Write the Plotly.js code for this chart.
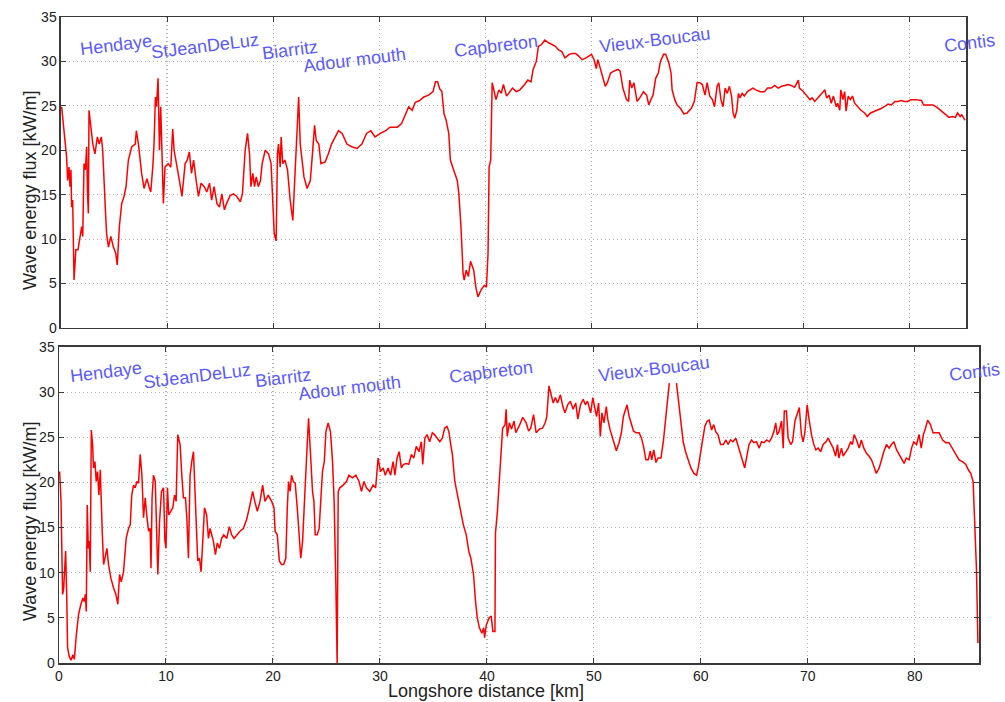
<!DOCTYPE html>
<html>
<head>
<meta charset="utf-8">
<script src="https://cdn.plot.ly/plotly-3.0.1.min.js"></script>
<style>html,body{margin:0;padding:0;background:#fff;}#chart{width:1005px;height:702px;}</style>
</head>
<body>
<div id="chart"></div>
<script>
// ---- Data: top panel (km, kW/m) ----
var topX = [0.06,0.2,0.4,0.53,0.63,0.75,0.85,0.94,1.0,1.1,1.23,1.4,1.6,1.8,1.95,2.05,2.17,2.3,2.42,2.5,2.58,2.64,2.8,3.0,3.2,3.43,3.6,3.8,3.93,4.06,4.2,4.3,4.47,4.7,4.94,5.16,5.3,5.5,5.72,5.94,6.13,6.35,6.67,7.0,7.1,7.3,7.6,7.83,8.1,8.3,8.46,8.65,8.77,8.9,9.0,9.15,9.28,9.4,9.53,9.65,9.8,10.1,10.35,10.53,10.66,10.9,11.16,11.4,11.7,11.9,12.1,12.3,12.5,12.74,12.96,13.2,13.5,13.74,14.0,14.2,14.43,14.7,14.94,15.16,15.4,15.6,15.94,16.26,16.57,16.9,17.1,17.36,17.58,17.77,17.9,18.08,18.24,18.4,18.6,18.8,18.96,19.25,19.56,19.8,19.97,20.1,20.28,20.4,20.5,20.66,20.75,20.9,21.1,21.35,21.6,21.85,22.0,22.2,22.4,22.55,22.7,22.9,23.2,23.5,23.7,23.9,24.06,24.3,24.5,24.9,25.2,25.5,25.85,26.16,26.5,26.95,27.4,27.9,28.36,28.8,29.2,29.6,30.1,30.6,31.0,31.7,32.1,32.45,32.77,33.1,33.4,33.8,34.2,34.65,35.06,35.3,35.5,35.7,35.9,36.1,36.3,36.55,36.7,37.0,37.35,37.5,37.7,37.9,38.0,38.2,38.4,38.6,38.9,39.1,39.3,39.6,39.9,40.1,40.25,40.35,40.5,40.64,40.86,41.0,41.27,41.5,41.7,42.0,42.2,42.55,42.9,43.25,43.7,44.0,44.3,44.5,44.8,45.0,45.3,45.6,45.96,46.3,46.6,46.9,47.2,47.5,47.9,48.2,48.5,48.8,49.1,49.5,49.8,50.0,50.25,50.45,50.6,50.8,51.05,51.3,51.5,51.8,52.1,52.5,52.7,52.96,53.3,53.5,53.6,53.8,54.0,54.3,54.55,54.9,55.2,55.4,55.6,55.8,56.05,56.3,56.5,56.8,57.0,57.3,57.5,57.6,57.85,58.07,58.4,58.7,59.0,59.4,59.7,59.95,60.2,60.45,60.7,60.9,61.15,61.4,61.6,61.84,62.0,62.2,62.4,62.6,62.8,63.0,63.2,63.35,63.5,63.7,63.85,64.0,64.2,64.4,64.7,64.9,65.2,65.5,65.9,66.3,66.6,66.95,67.27,67.6,67.9,68.2,68.5,68.8,69.15,69.5,69.6,69.9,70.25,70.6,70.8,71.04,71.35,71.7,72.0,72.16,72.4,72.6,72.8,73.08,73.2,73.4,73.5,73.7,73.86,74.0,74.2,74.4,74.6,74.8,75.1,75.4,75.75,76.0,76.3,76.7,77.0,77.3,77.6,77.95,78.26,78.6,78.9,79.2,79.5,79.8,80.1,80.6,81.1,81.3,81.7,82.2,82.6,83.0,83.4,83.7,84.0,84.3,84.5,84.75,84.9,85.2];
var topFlux = [24.9,23,21.1,19.2,16.6,18.1,15.9,17.8,13.6,14.4,5.4,8.8,8.8,10.6,11.4,10.3,18.5,17.8,20.4,15.1,12.9,24.5,22.6,20.7,19.6,21.5,20.7,21.5,20,15.9,12.9,10.6,9.1,10.3,9.1,8.4,7.1,11.4,14.0,14.8,15.9,18.9,20.4,20.7,22.2,20.7,17.4,15.7,16.8,15.9,15.3,18.1,20.7,26,24.9,28.1,20,24.9,17.4,14.0,18.1,18.5,18.1,22.4,20,18.1,16.6,14.8,18.5,18.9,19.8,17.4,18.9,16.6,14.8,16.3,15.9,15.3,16.3,14.4,15.9,14.0,13.6,15.1,13.3,14.0,14.9,15.1,14.8,14.2,15.1,20,21.9,19.6,15.9,17.4,15.9,17.0,15.9,16.6,18.5,20,19.6,18.5,14.8,10.6,9.8,19.6,20.7,18.1,21.5,18.5,18.9,17.8,14.4,12.1,15.9,21.1,26.0,20.7,18.9,17.0,15.7,16.6,19.6,22.8,21.1,20.7,18.5,18.7,19.6,20.7,21.5,22.2,21.9,20.7,20.4,20.2,20.7,21.9,22.2,21.5,21.9,22.2,22.6,22.6,23,24.1,24.9,24.5,25.4,25.6,26,26.2,26.6,27.7,27.7,26.9,26.6,24.1,23.4,21.9,18.9,17.8,16.6,15.1,11.4,6.1,5.4,6.5,5.8,7.5,6.5,4.6,3.5,4.3,4.8,4.6,8.4,18.1,18.9,27.6,26.6,25.7,26.8,26.4,27.4,26.1,26.4,27.0,26.6,26.8,27.4,27.9,27.7,29.1,30,31.7,31.9,32.4,32.1,31.9,31.7,31.3,31.1,30.4,30.8,30.9,30.9,30.6,30.2,30.4,30.6,30.8,30.2,29.2,30.2,29.4,28.3,27.2,27.6,28.7,28.9,29.1,28.9,27.0,25.7,25.5,27.9,27.0,27.6,25.5,25.9,26.6,26.2,25.1,25.7,26.2,28.1,28.7,30,30.8,30.8,29.8,28.7,26.8,25.7,25.1,24.7,24.1,24.2,24.7,25.5,27.6,27.6,27.4,26.2,27.6,26.1,25.7,24.9,27.2,27.6,25.7,24.9,27.0,26.4,27.2,26.1,24.2,23.6,24.5,26.4,25.9,26.4,26.1,26.6,26.8,27.0,26.8,26.6,26.6,27.0,27.0,27.3,27.0,27.2,27.3,27.4,27.3,27.1,27.9,27.0,26.7,26.2,25.7,25.9,25.5,25.9,26.4,26.8,25.9,26.2,25.3,26.1,24.9,25.3,24.5,26.8,25.7,26.6,24.4,26.1,25.7,26.1,25.3,24.9,24.5,24.2,23.8,24.2,24.4,24.5,24.7,24.9,25.2,25.1,25.5,25.5,25.6,25.5,25.5,25.7,25.7,25.6,25.1,25.1,25.1,24.8,24.4,24.0,23.7,23.8,23.7,24.2,23.8,24.0,23.4];

// ---- Data: bottom panel (km, kW/m) ----
var botX = [0.06,0.19,0.28,0.34,0.44,0.53,0.62,0.72,0.8,0.96,1.12,1.3,1.43,1.62,1.83,2.05,2.24,2.36,2.46,2.55,2.64,2.74,2.83,2.92,3.02,3.14,3.23,3.36,3.48,3.6,3.73,3.86,3.95,4.04,4.17,4.32,4.48,4.63,4.85,5.1,5.32,5.5,5.66,5.82,6.03,6.28,6.5,6.66,6.8,6.97,7.12,7.28,7.43,7.59,7.75,7.9,8.06,8.2,8.37,8.52,8.6,8.7,8.83,9.0,9.08,9.24,9.4,9.58,9.77,9.9,10.0,10.14,10.26,10.45,10.64,10.8,10.95,11.1,11.32,11.48,11.63,11.82,11.95,12.1,12.25,12.41,12.57,12.7,12.8,12.97,13.13,13.28,13.44,13.6,13.8,13.97,14.12,14.28,14.43,14.62,14.8,15.0,15.2,15.4,15.68,15.92,16.14,16.36,16.6,16.92,17.23,17.54,17.85,18.1,18.3,18.54,18.79,19.04,19.25,19.56,19.88,20.1,20.2,20.4,20.6,20.8,21.0,21.2,21.34,21.46,21.6,21.74,21.9,22.08,22.27,22.46,22.6,22.77,22.92,23.08,23.2,23.33,23.45,23.58,23.7,23.83,23.95,24.14,24.32,24.5,24.63,24.8,24.95,25.16,25.38,25.57,25.72,25.88,26.0,26.1,26.25,26.56,26.87,27.1,27.43,27.75,28.05,28.27,28.5,28.74,29.05,29.36,29.6,29.83,30.05,30.3,30.5,30.76,31.0,31.23,31.4,31.6,31.8,32.0,32.2,32.47,32.7,32.94,33.16,33.4,33.65,33.87,34.0,34.2,34.4,34.65,34.9,35.1,35.33,35.6,35.83,36.05,36.27,36.45,36.58,36.77,37.0,37.3,37.5,37.8,38.07,38.3,38.5,38.75,38.94,39.1,39.3,39.53,39.7,39.78,39.94,40.2,40.4,40.56,40.75,40.8,40.97,41.16,41.3,41.47,41.7,41.8,41.9,42.1,42.3,42.54,42.7,43.0,43.35,43.67,43.9,44.1,44.36,44.6,44.9,45.2,45.45,45.6,45.8,45.99,46.2,46.4,46.6,46.87,47.1,47.3,47.55,47.8,48.06,48.3,48.5,48.75,49.0,49.2,49.4,49.7,49.9,50.06,50.25,50.44,50.6,50.75,50.94,51.16,51.3,51.5,51.7,51.94,52.1,52.35,52.57,52.76,53.0,53.1,53.3,53.5,53.7,53.95,54.23,54.45,54.64,54.86,55.08,55.27,55.4,55.6,55.8,56.0,56.27,56.5,56.74,56.9,57.05,57.4,57.72,57.9,58.04,58.2,58.35,58.57,58.8,59.07,59.35,59.6,59.75,59.97,60.16,60.37,60.6,60.78,61.0,61.2,61.4,61.6,61.84,62.1,62.34,62.55,62.77,63.0,63.27,63.5,63.7,63.9,64.1,64.33,64.5,64.74,64.95,65.2,65.45,65.67,65.9,66.14,66.4,66.6,66.82,67.0,67.13,67.3,67.54,67.7,67.8,68.0,68.16,68.4,68.57,68.8,69.0,69.2,69.4,69.56,69.72,69.94,70.1,70.34,70.56,70.75,70.97,71.2,71.43,71.7,71.9,72.1,72.37,72.6,72.77,72.9,73.15,73.3,73.55,73.77,74.0,74.17,74.33,74.55,74.8,75.0,75.23,75.5,75.73,75.95,76.17,76.4,76.67,76.9,77.1,77.35,77.6,77.82,78.04,78.3,78.53,78.75,79.0,79.2,79.47,79.7,79.9,80.16,80.4,80.6,80.8,81.0,81.2,81.46,81.7,81.96,82.27,82.6,82.9,83.2,83.5,83.8,84.14,84.45,84.77,85.0,85.23,85.45,85.6,85.76,85.9];
var botFlux = [21.2,17.9,11.3,7.6,8.3,11.3,12.4,7.6,1.7,0.7,0.3,0.9,0.4,3.1,5.4,6.5,7.2,6.8,7.6,5.7,17.5,12.7,13.5,10.1,25.8,24.2,21.6,22.3,20.1,21.2,18.6,21.4,16.4,14.6,10.9,12.0,12.7,10.9,9.4,8.3,7.6,6.5,9.8,9.0,10.1,13.8,14.9,15.3,18.6,19.7,19.4,20.1,19.9,23.1,20.8,16.1,18.3,16.4,14.6,14.9,10.5,18.3,20.8,20.1,16.4,9.8,15.7,19.0,19.4,13.5,12.7,19.4,16.4,16.8,17.2,18.6,17.9,25.3,24.2,20.8,18.3,18.3,16.1,11.6,20.8,22.3,23.4,19.4,15.7,11.3,11.6,10.1,13.5,17.2,16.4,13.8,14.9,14.2,13.5,12.0,13.3,12.7,13.8,14.2,13.8,15.1,14.2,13.8,14.2,14.6,14.9,15.9,17.5,19.0,17.9,16.8,17.9,19.7,17.9,18.6,17.9,17.2,14.6,14.2,11.3,10.9,10.9,11.6,17.2,20.1,19.0,20.8,20.1,19.9,17.2,13.5,11.6,13.5,17.9,21.6,24.2,27.1,24.2,21.2,19.0,17.9,14.2,14.2,14.9,18.6,21.2,22.3,25.6,26.6,25.6,22.3,17.9,8.7,0.0,19.0,19.4,19.7,20.1,20.8,20.5,20.8,20.1,19.0,20.1,19.4,19.0,19.7,19.4,22.7,21.2,21.6,20.8,21.6,20.8,22.3,20.8,22.7,23.4,21.6,22.0,22.1,22.0,23.1,22.7,24.0,23.4,24.5,22.0,24.9,25.3,24.5,25.5,25.3,24.9,24.5,24.9,26.0,26.2,25.6,24.5,23.1,20.1,18.3,16.8,15.3,14.2,12.4,11.6,9.8,6.8,5.0,3.9,3.3,3.9,2.8,4.2,5.0,5.2,3.5,3.5,14.4,16.6,20.3,24.0,26.0,26.4,28.1,25.1,26.6,25.9,26.8,25.5,26.2,27.2,26.6,25.7,26.0,27.5,25.5,25.9,26.0,26.6,27.3,30.7,29.7,28.8,29.4,28.8,29.7,28.4,27.7,28.6,29.0,28.1,28.8,27.0,28.6,29.2,28.6,29.0,27.7,29.4,28.4,27.3,28.8,25.1,27.7,26.6,28.4,27.0,25.9,25.1,24.0,23.5,24.4,25.5,27.3,28.1,28.6,27.3,26.6,25.7,25.5,25.5,24.9,24.0,22.5,22.5,23.5,22.5,23.6,22.2,22.7,22.7,24.6,27.7,29.0,31.0,null,31.0,29.0,27.5,25.6,24.5,23.4,22.5,21.6,21.0,20.8,21.6,23.4,24.5,26.2,26.8,26.9,25.8,26.4,25.6,25.3,24.2,24.2,24.7,24.2,24.7,24.5,24.9,24.0,23.1,22.3,21.6,23.1,24.2,24.7,24.4,24.5,23.8,24.5,24.4,24.7,24.5,24.9,25.6,26.6,25.3,25.6,26.8,23.8,27.9,27.9,24.9,24.2,24.5,26.8,27.5,28.3,25.3,24.5,25.5,28.6,27.1,25.3,24.2,23.6,23.8,23.4,24.2,24.5,24.9,24.4,23.8,22.9,24.2,22.7,23.8,22.9,23.4,23.8,24.5,24.2,25.3,24.7,23.8,24.7,23.8,23.2,22.9,22.5,21.8,21.0,21.6,22.7,23.4,24.2,23.8,24.2,24.5,23.6,23.1,22.5,22.1,22.7,22.5,23.8,24.5,24.2,25.3,23.8,25.3,26.0,26.9,26.4,25.5,25.5,25.5,24.7,24.4,24.4,23.8,23.1,22.5,22.3,22.0,21.4,21.0,20.1,16.1,10.5,2.2];

// ---- Place names and where they are written (km, kW/m) ----
var placeNames = ["Hendaye","StJeanDeLuz","Biarritz","Adour mouth","Capbreton","Vieux-Boucau","Contis"];
var topLabelX = [5.2,13.6,21.6,27.7,41.0,56.0,85.6];
var topLabelY = [31.9,31.7,31.3,30.2,31.7,32.4,32.1];
var botLabelX = [4.4,12.9,20.9,27.2,40.4,55.6,85.6];
var botLabelY = [32.2,31.8,31.6,30.5,32.2,32.6,32.2];

var yTitle = "Wave energy flux [kW/m]";
var xTitle = "Longshore distance [km]";

var FONT = "Liberation Sans, Arial, sans-serif";
var lineStyle = {color: "#ff0000", width: 1.5};
var TOP_RANGE = [0, 85.3];
var BOT_RANGE = [0, 86.0];

var traces = [
  {x: topX, y: topFlux, xaxis: "x2", yaxis: "y2", type: "scatter", mode: "lines", line: lineStyle, connectgaps: false, hoverinfo: "skip"},
  {x: botX, y: botFlux, xaxis: "x", yaxis: "y", type: "scatter", mode: "lines", line: lineStyle, connectgaps: false, hoverinfo: "skip"}
];

function axisBase() {
  return {
    showline: true, linecolor: "#3a3a3a", linewidth: 1.5, mirror: "ticks",
    ticks: "inside", ticklen: 5, tickcolor: "#3a3a3a", tickwidth: 1,
    showgrid: true, gridcolor: "#b4b4b4", griddash: "1px,3px", gridwidth: 1.2,
    zeroline: false, tickfont: {family: FONT, size: 14, color: "#222"}
  };
}

var xBot = Object.assign(axisBase(), {domain: [0, 1], range: BOT_RANGE, dtick: 10, tick0: 0, anchor: "y"});
var yBot = Object.assign(axisBase(), {domain: [0, 0.4892], range: [0, 35], dtick: 5, tick0: 0, anchor: "x"});
var xTop = Object.assign(axisBase(), {domain: [0.00217, 0.98587], range: TOP_RANGE, dtick: 10, tick0: 0, anchor: "y2", showticklabels: false});
var yTop = Object.assign(axisBase(), {domain: [0.5186, 1], range: [0, 35], dtick: 5, tick0: 0, anchor: "x2"});

var labelFont = {family: FONT, size: 18, color: "#5a5aff"};
function placeLabel(xaxisId, yaxisId, range, lx, ly, txt) {
  // labels past the axis end are placed relative to the axis domain so they are not hidden
  var a = {yref: yaxisId, y: ly, text: txt, showarrow: false, textangle: -7,
           xanchor: "center", yanchor: "middle", font: labelFont};
  if (lx > range[1]) { a.xref = xaxisId + " domain"; a.x = lx / range[1]; }
  else { a.xref = xaxisId; a.x = lx; }
  return a;
}

var annotations = [];
for (var i = 0; i < placeNames.length; i++) {
  annotations.push(placeLabel("x2", "y2", TOP_RANGE, topLabelX[i], topLabelY[i], placeNames[i]));
  annotations.push(placeLabel("x", "y", BOT_RANGE, botLabelX[i], botLabelY[i], placeNames[i]));
}
annotations.push({xref: "paper", yref: "paper", x: -0.0315, y: 0.7307, text: yTitle, showarrow: false, textangle: -90,
  xanchor: "center", yanchor: "middle", font: {family: FONT, size: 18, color: "#222"}});
annotations.push({xref: "paper", yref: "paper", x: -0.0315, y: 0.2183, text: yTitle, showarrow: false, textangle: -90,
  xanchor: "center", yanchor: "middle", font: {family: FONT, size: 18, color: "#222"}});
annotations.push({xref: "paper", yref: "paper", x: 0.464, y: -0.0432, text: xTitle, showarrow: false,
  xanchor: "center", yanchor: "middle", borderpad: 0, font: {family: FONT, size: 18, color: "#222"}});

var layout = {
  width: 1005, height: 702,
  margin: {l: 59, r: 26, t: 17, b: 39, pad: 0},
  paper_bgcolor: "#ffffff", plot_bgcolor: "#ffffff",
  showlegend: false,
  xaxis: xBot, yaxis: yBot, xaxis2: xTop, yaxis2: yTop,
  annotations: annotations,
  font: {family: FONT}
};

Plotly.newPlot("chart", traces, layout, {displayModeBar: false, staticPlot: true});
</script>
</body>
</html>
